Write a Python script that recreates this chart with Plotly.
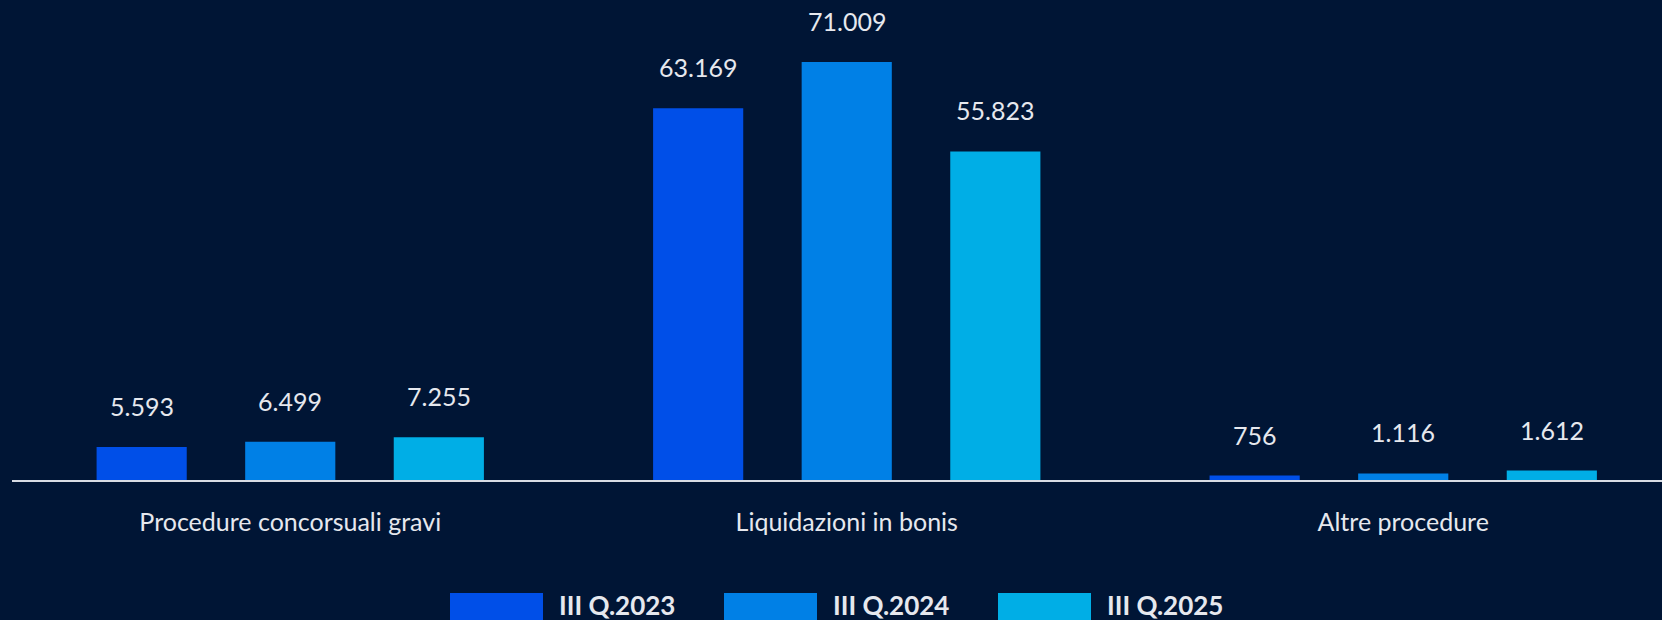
import plotly.graph_objects as go

categories = ["Procedure concorsuali gravi", "Liquidazioni in bonis", "Altre procedure"]
series_names = ["III Q.2023", "III Q.2024", "III Q.2025"]
values_2023 = [5593, 63169, 756]
values_2024 = [6499, 71009, 1116]
values_2025 = [7255, 55823, 1612]
series_values = [values_2023, values_2024, values_2025]
colors = ["#004FE8", "#0080E6", "#00AEE6"]

BG = "#001535"
TXT = "#E6E8EE"
FONT = "Source Sans Pro, Lato, sans-serif"

W, H = 1662, 620
ML, MR, MT, MB = 12, 0, 0, 140
plot_w = W - ML - MR
plot_h = H - MT - MB

slot = 0.267       # distance between bars in a group (data units)
bar_w = 0.162      # bar width (data units)
x_range = [-0.5, 2.465]
y_range = [0, 81540]


def fmt(v):
    return f"{v:,}".replace(",", ".")


fig = go.Figure()
annotations = []
for j, (name, vals, col) in enumerate(zip(series_names, series_values, colors)):
    xs = [i + (j - 1) * slot for i in range(len(categories))]
    fig.add_trace(go.Bar(
        x=xs, y=vals, width=bar_w, name=name,
        marker=dict(color=col, line=dict(width=0)),
        showlegend=False, hoverinfo="skip",
    ))
    for x, v in zip(xs, vals):
        annotations.append(dict(
            x=x, y=v, xref="x", yref="y", text=fmt(v), showarrow=False,
            yanchor="middle", yshift=41,
            font=dict(family=FONT, size=25, color=TXT),
        ))

# custom legend (wide swatches)
def px_to_paper_x(px):
    return (px - ML) / plot_w

def px_to_paper_y(py):
    return (H - MB - py) / plot_h

shapes = []
leg_x0, leg_step, sw_w, gap = 450, 274, 93, 14
sw_top, sw_bot, txt_mid = 593, 630, 605
for j, (name, col) in enumerate(zip(series_names, colors)):
    x0 = leg_x0 + j * leg_step
    shapes.append(dict(
        type="rect", xref="paper", yref="paper",
        x0=px_to_paper_x(x0), x1=px_to_paper_x(x0 + sw_w),
        y0=px_to_paper_y(sw_bot), y1=px_to_paper_y(sw_top),
        fillcolor=col, line=dict(width=0), layer="above",
    ))
    annotations.append(dict(
        x=px_to_paper_x(x0 + sw_w + gap), y=px_to_paper_y(txt_mid),
        xref="paper", yref="paper", xanchor="left", yanchor="middle",
        text=f"<b>{name}</b>", showarrow=False,
        font=dict(family=FONT, size=26, color=TXT),
    ))

fig.update_layout(
    width=W, height=H,
    margin=dict(l=ML, r=MR, t=MT, b=MB, pad=0),
    paper_bgcolor=BG, plot_bgcolor=BG,
    barmode="overlay",
    showlegend=False,
    annotations=annotations,
    shapes=shapes,
    xaxis=dict(
        range=x_range, tickmode="array", tickvals=list(range(len(categories))),
        ticktext=categories, showgrid=False, zeroline=False,
        showline=True, linecolor="#D8DCE4", linewidth=2,
        ticks="", ticklabelstandoff=19,
        tickfont=dict(family=FONT, size=25, color=TXT),
        fixedrange=True,
    ),
    yaxis=dict(range=y_range, visible=False, showgrid=False, zeroline=False, fixedrange=True),
)

fig.write_html(
    "out.html",
    config={"displayModeBar": False},
    post_script="document.body.style.margin='0';document.body.style.overflow='hidden';document.body.style.background='" + BG + "';",
)
